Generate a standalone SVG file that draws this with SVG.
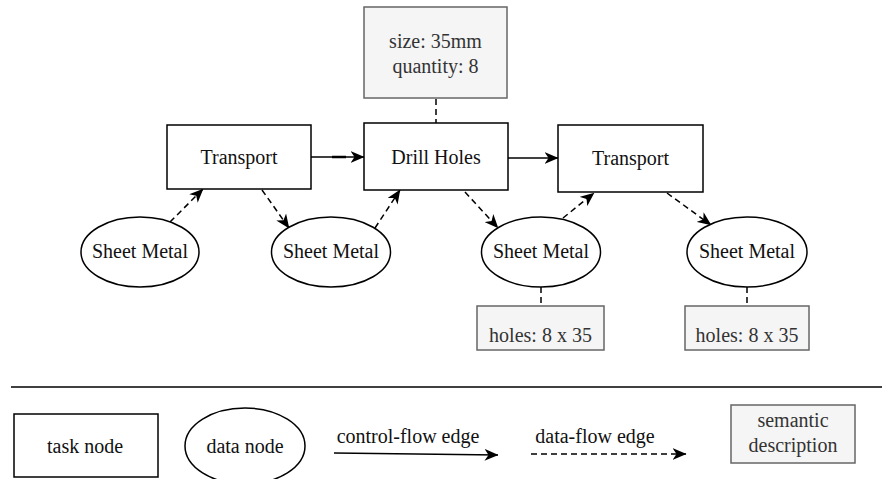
<svg xmlns="http://www.w3.org/2000/svg" width="882" height="479" viewBox="0 0 882 479">
<style>
.task{fill:#fff;stroke:#000;stroke-width:1.5}
.data{fill:#fff;stroke:#000;stroke-width:1.5}
.sem{fill:#f5f5f5;stroke:#666;stroke-width:1.5}
text{font-family:"Liberation Serif","Times New Roman",serif;font-size:20px;fill:#111;text-anchor:middle}
text.s{fill:#333}
.cf{fill:none;stroke:#000;stroke-width:1.5;marker-end:url(#ah)}
.df{fill:none;stroke:#000;stroke-width:1.5;stroke-dasharray:6 4;marker-end:url(#ah)}
.sl{fill:none;stroke:#000;stroke-width:1.5;stroke-dasharray:6 4}
</style>
<defs>
<marker id="ah" viewBox="0 0 14 12" refX="13.5" refY="6" markerWidth="14" markerHeight="12" markerUnits="userSpaceOnUse" orient="auto">
<path d="M0,0 L14,6 L0,12 L4,6 z" fill="#000"/>
</marker>
</defs>
<rect width="882" height="479" fill="#fff"/>

<g id="edges">
<line class="cf" x1="311" y1="157" x2="364" y2="157"/>
<line x1="332" y1="157" x2="346" y2="157" stroke="#000" stroke-width="2.5"/>
<line class="cf" x1="508" y1="158" x2="558" y2="158"/>
<line class="df" x1="170" y1="222" x2="203" y2="189"/>
<line class="df" x1="262" y1="190" x2="289" y2="228"/>
<line class="df" x1="375" y1="228" x2="400" y2="190"/>
<line class="df" x1="465" y1="192" x2="498" y2="228"/>
<line class="df" x1="563" y1="218" x2="594" y2="193"/>
<line class="df" x1="667" y1="193" x2="711" y2="225"/>
<line class="sl" x1="436" y1="99" x2="436" y2="123"/>
<line class="sl" x1="541" y1="287" x2="541" y2="306"/>
<line class="sl" x1="747" y1="287" x2="747" y2="306"/>
</g>

<g id="sem-drill">
<rect class="sem" x="364" y="7" width="143" height="91"/>
<text class="s" x="435.5" y="48">size: 35mm</text>
<text class="s" x="435.5" y="73">quantity: 8</text>
</g>
<g id="transport1">
<rect class="task" x="167" y="125" width="144" height="64"/>
<text x="239" y="164">Transport</text>
</g>
<g id="drill">
<rect class="task" x="364" y="123" width="144" height="67"/>
<text x="436" y="164">Drill Holes</text>
</g>
<g id="transport2">
<rect class="task" x="558" y="125" width="145" height="67"/>
<text x="630.5" y="165">Transport</text>
</g>
<g id="sheet1">
<ellipse class="data" cx="140" cy="252" rx="59" ry="35"/>
<text x="140" y="258">Sheet Metal</text>
</g>
<g id="sheet2">
<ellipse class="data" cx="331" cy="252" rx="59.5" ry="35"/>
<text x="331" y="258">Sheet Metal</text>
</g>
<g id="sheet3">
<ellipse class="data" cx="541" cy="252" rx="59.5" ry="35"/>
<text x="541" y="258">Sheet Metal</text>
</g>
<g id="sheet4">
<ellipse class="data" cx="747" cy="252" rx="60" ry="35"/>
<text x="747" y="258">Sheet Metal</text>
</g>
<g id="sem-sheet3">
<rect class="sem" x="477" y="306" width="127" height="44"/>
<text class="s" x="540.5" y="342">holes: 8 x 35</text>
</g>
<g id="sem-sheet4">
<rect class="sem" x="685" y="306" width="124" height="44"/>
<text class="s" x="747" y="342">holes: 8 x 35</text>
</g>

<g id="legend">
<line x1="11" y1="387" x2="882" y2="387" stroke="#000" stroke-width="1.5"/>
<g id="legend-task">
<rect class="task" x="14" y="414" width="144" height="63"/>
<text x="85" y="453">task node</text>
</g>
<g id="legend-data">
<ellipse class="data" cx="245" cy="446" rx="60" ry="38"/>
<text x="245" y="453">data node</text>
</g>
<g id="legend-cf">
<line class="cf" x1="334" y1="453" x2="498" y2="455"/>
<text x="408" y="443">control-flow edge</text>
</g>
<g id="legend-df">
<line class="df" x1="531" y1="454" x2="686" y2="454"/>
<text x="595" y="443">data-flow edge</text>
</g>
<g id="legend-sem">
<rect class="sem" x="731" y="405" width="124" height="58"/>
<text class="s" x="793" y="427">semantic</text>
<text class="s" x="793" y="452">description</text>
</g>
</g>
</svg>
